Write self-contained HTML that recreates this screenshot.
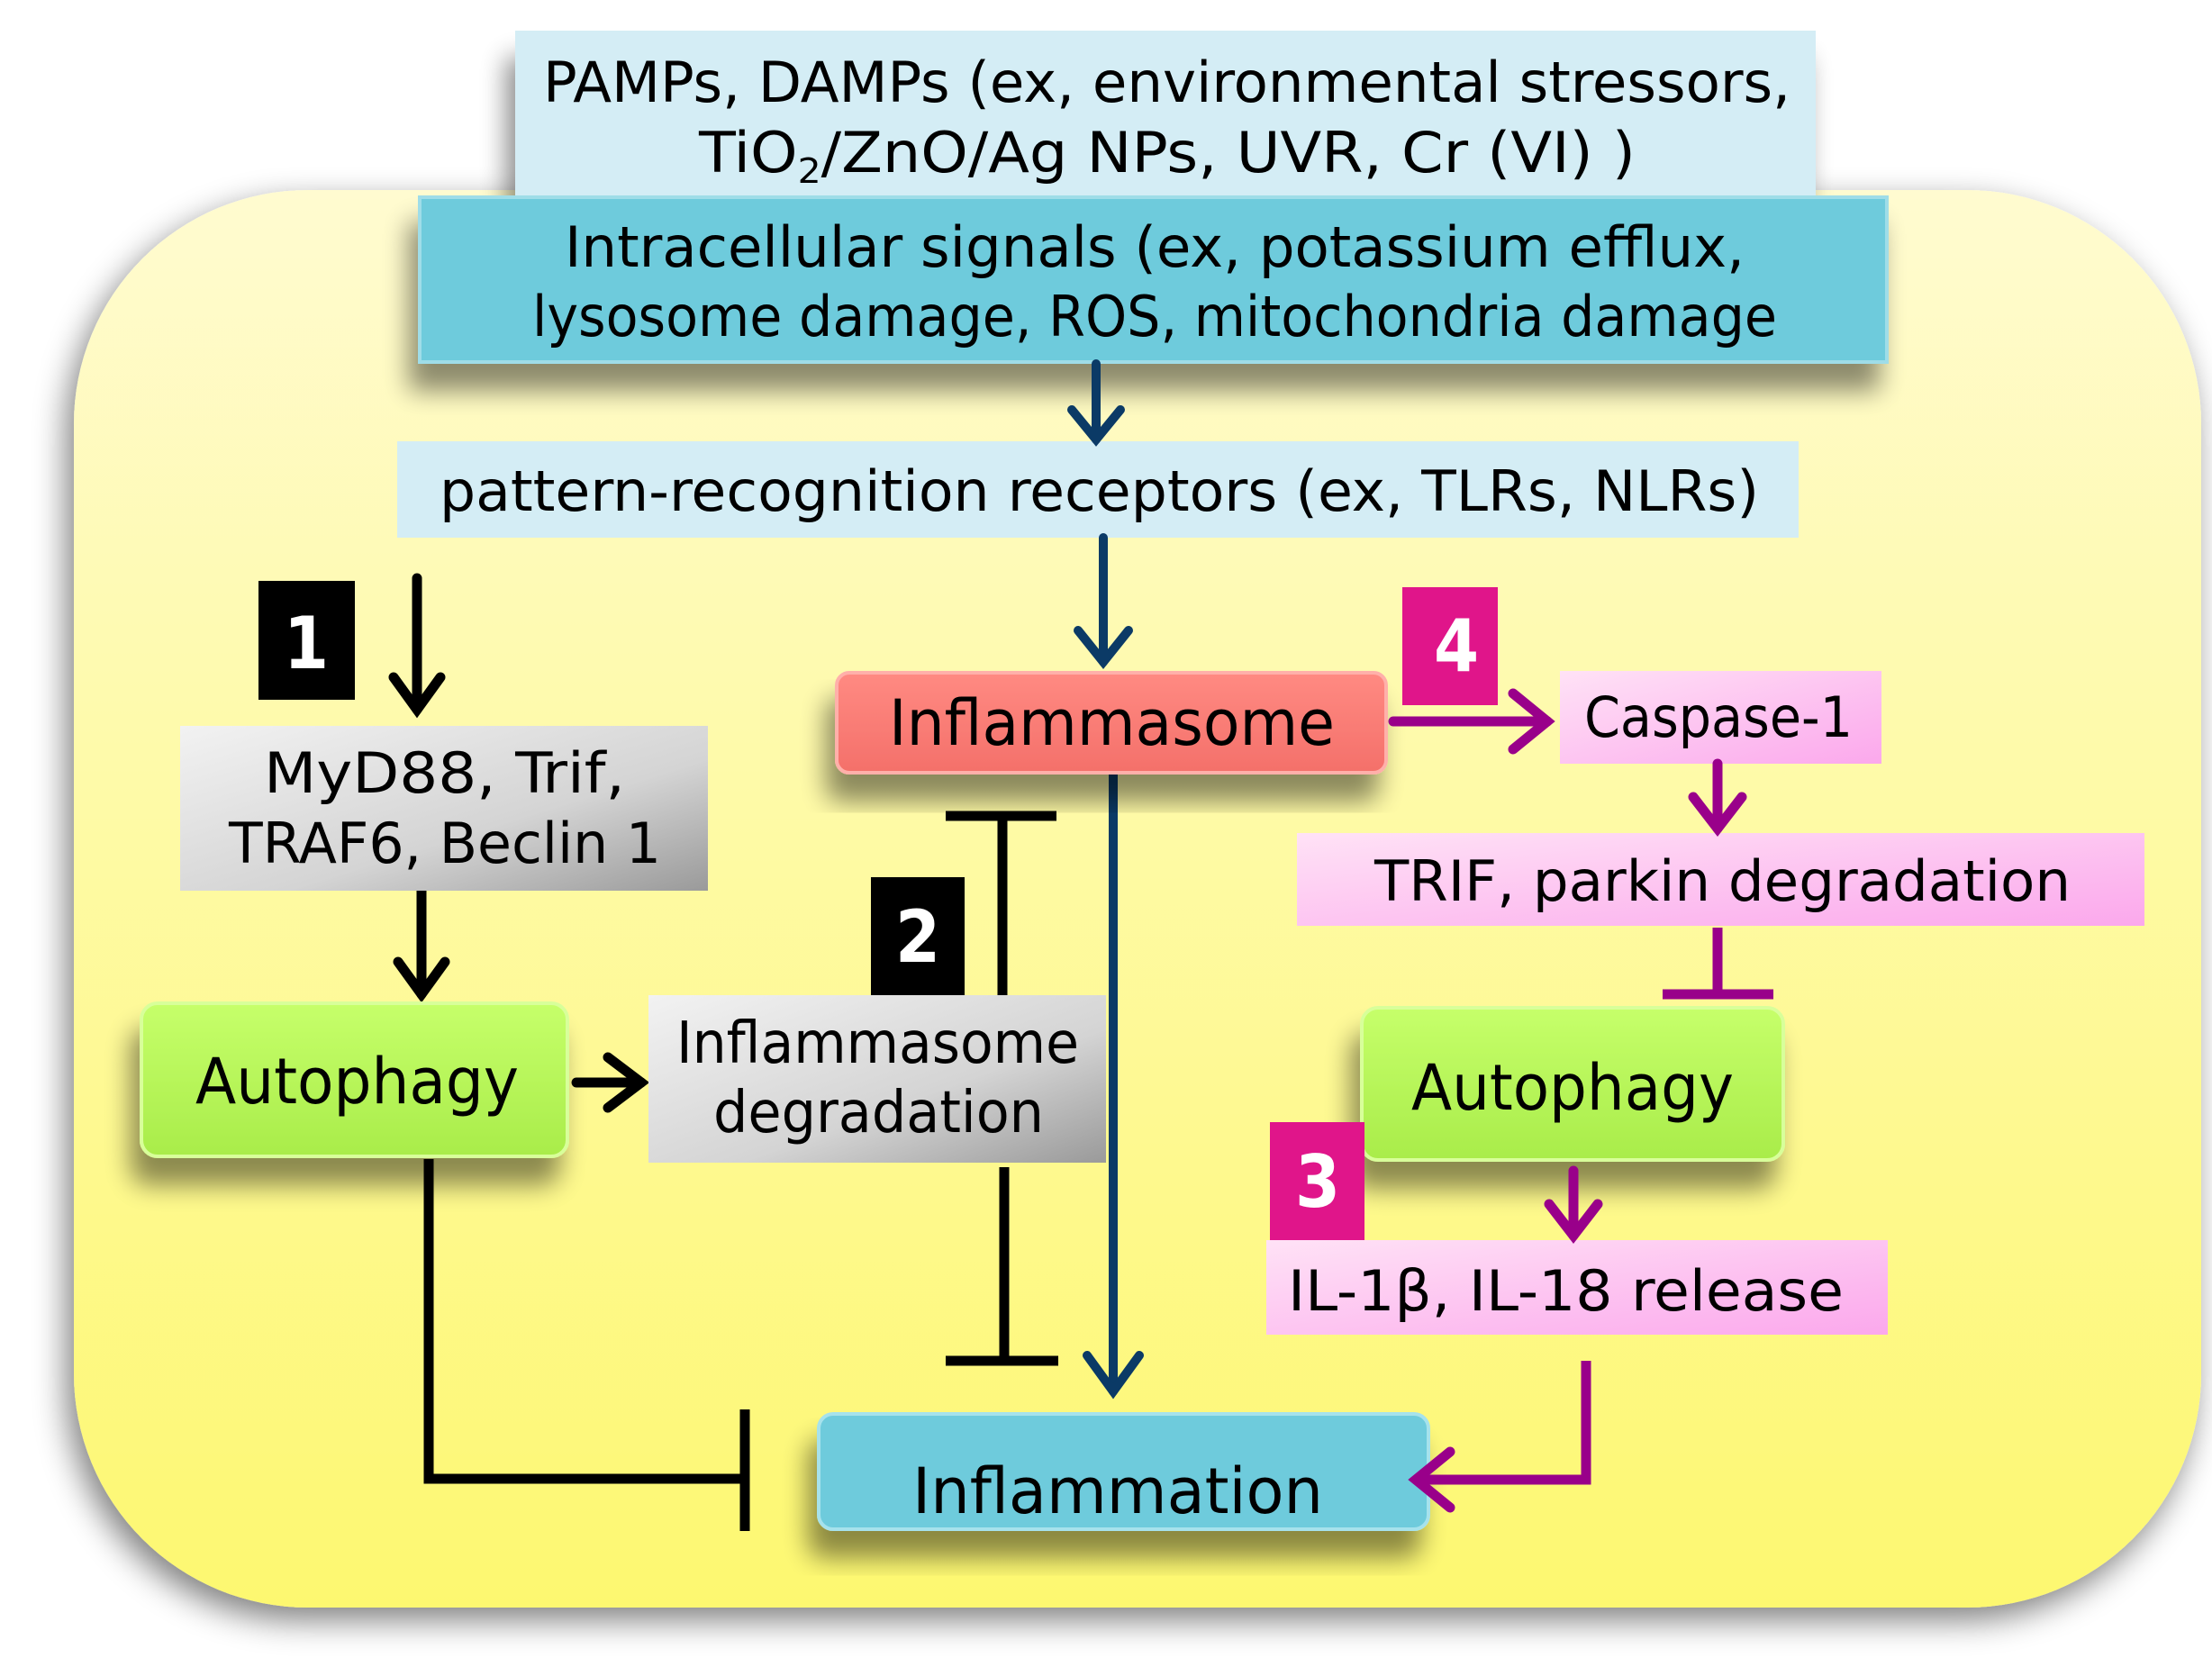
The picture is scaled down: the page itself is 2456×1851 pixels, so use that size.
<!DOCTYPE html>
<html><head><meta charset="utf-8"><style>
html,body{margin:0;padding:0;background:#fff;}
svg{display:block;}
text{font-family:"DejaVu Sans Condensed","Liberation Sans Narrow","Liberation Sans",sans-serif;fill:#000;}
</style></head><body>
<svg width="2456" height="1851" viewBox="0 0 2456 1851" xmlns="http://www.w3.org/2000/svg">
<defs>
<linearGradient id="yel" x1="0" y1="0" x2="0" y2="1"><stop offset="0" stop-color="#fffbd0"/><stop offset="1" stop-color="#fdf870"/></linearGradient>
<linearGradient id="gray" x1="0" y1="0" x2="1" y2="1"><stop offset="0" stop-color="#f2f2f2"/><stop offset="0.6" stop-color="#d4d4d4"/><stop offset="1" stop-color="#9a9a9a"/></linearGradient>
<linearGradient id="pink" x1="0" y1="0" x2="1" y2="1"><stop offset="0" stop-color="#ffe2f6"/><stop offset="1" stop-color="#fba8ec"/></linearGradient>
<linearGradient id="green" x1="0" y1="0" x2="0" y2="1"><stop offset="0" stop-color="#c6ff6a"/><stop offset="1" stop-color="#a9ec4a"/></linearGradient>
<linearGradient id="red" x1="0" y1="0" x2="0" y2="1"><stop offset="0" stop-color="#ff8a82"/><stop offset="1" stop-color="#f4706a"/></linearGradient>
<filter id="sh" x="-20%" y="-20%" width="150%" height="160%"><feGaussianBlur in="SourceAlpha" stdDeviation="14"/><feOffset dx="-10" dy="30"/><feComponentTransfer><feFuncA type="linear" slope="0.45"/></feComponentTransfer><feMerge><feMergeNode/><feMergeNode in="SourceGraphic"/></feMerge></filter>
<filter id="shbg" x="-10%" y="-10%" width="120%" height="120%"><feGaussianBlur in="SourceAlpha" stdDeviation="18"/><feOffset dx="-8" dy="14"/><feComponentTransfer><feFuncA type="linear" slope="0.5"/></feComponentTransfer><feMerge><feMergeNode/><feMergeNode in="SourceGraphic"/></feMerge></filter>
</defs>

<rect x="82" y="211" width="2362" height="1574" rx="260" fill="url(#yel)" filter="url(#shbg)"/>

<!-- top boxes -->
<rect x="572" y="34" width="1444" height="186" fill="#d4edf5" filter="url(#sh)"/>
<rect x="466" y="219" width="1629" height="183" fill="#6ecbdc" stroke="#9fdde8" stroke-width="4" filter="url(#sh)"/>
<rect x="441" y="490" width="1556" height="107" fill="#d4edf5"/>

<text x="603" y="113" font-size="62" textLength="1385" lengthAdjust="spacingAndGlyphs">PAMPs, DAMPs (ex, environmental stressors,</text>
<text x="776" y="191" font-size="62" textLength="1040" lengthAdjust="spacingAndGlyphs">TiO<tspan font-size="38" dy="12">2</tspan><tspan dy="-12">/ZnO/Ag NPs, UVR, Cr (VI) )</tspan></text>
<text x="627" y="296" font-size="62" textLength="1310" lengthAdjust="spacingAndGlyphs">Intracellular signals (ex, potassium efflux,</text>
<text x="591" y="373" font-size="62" textLength="1382" lengthAdjust="spacingAndGlyphs">lysosome damage, ROS, mitochondria damage</text>
<text x="488" y="567" font-size="62" textLength="1465" lengthAdjust="spacingAndGlyphs">pattern-recognition receptors (ex, TLRs, NLRs)</text>

<!-- navy arrows -->
<g stroke="#0b3a66" stroke-width="10" fill="none" stroke-linecap="round">
<line x1="1217" y1="404" x2="1217" y2="488"/><polyline points="1190,455 1217,488 1244,455"/>
<line x1="1225" y1="597" x2="1225" y2="735"/><polyline points="1197,700 1225,735 1253,700"/>
<line x1="1236" y1="858" x2="1236" y2="1545"/><polyline points="1207,1505 1236,1545 1265,1505"/>
</g>

<!-- left -->
<rect x="287" y="645" width="107" height="132" fill="#000"/>
<text x="340" y="742" font-size="80" font-weight="bold" text-anchor="middle" style="fill:#fff">1</text>
<g stroke="#000" stroke-width="11" fill="none" stroke-linecap="round">
<line x1="463" y1="642" x2="463" y2="788"/><polyline points="437,752 463,788 489,752"/>
<line x1="468" y1="989" x2="468" y2="1104"/><polyline points="442,1068 468,1104 494,1068"/>
<line x1="640" y1="1202" x2="712" y2="1202"/><polyline points="675,1174 712,1202 675,1230"/>
</g>
<rect x="200" y="806" width="586" height="183" fill="url(#gray)"/>
<text x="293" y="880" font-size="62" textLength="401" lengthAdjust="spacingAndGlyphs">MyD88, Trif,</text>
<text x="254" y="958" font-size="62" textLength="480" lengthAdjust="spacingAndGlyphs">TRAF6, Beclin 1</text>

<rect x="157" y="1114" width="473" height="170" rx="18" fill="url(#green)" stroke="#d8ff9a" stroke-width="4" filter="url(#sh)"/>
<text x="217" y="1225" font-size="70" textLength="359" lengthAdjust="spacingAndGlyphs">Autophagy</text>

<rect x="720" y="1105" width="508" height="186" fill="url(#gray)"/>
<text x="751" y="1180" font-size="64" textLength="447" lengthAdjust="spacingAndGlyphs">Inflammasome</text>
<text x="792" y="1257" font-size="64" textLength="367" lengthAdjust="spacingAndGlyphs">degradation</text>

<rect x="967" y="974" width="104" height="131" fill="#000"/>
<text x="1019" y="1068" font-size="80" font-weight="bold" text-anchor="middle" style="fill:#fff">2</text>

<g stroke="#000" stroke-width="11" fill="none">
<line x1="1113" y1="903" x2="1113" y2="1105"/><line x1="1050" y1="906" x2="1173" y2="906"/>
<line x1="1115" y1="1296" x2="1115" y2="1511"/><line x1="1050" y1="1511" x2="1175" y2="1511"/>
<polyline points="476,1287 476,1642 827,1642"/><line x1="827" y1="1565" x2="827" y2="1700"/>
</g>

<!-- center -->
<rect x="929" y="747" width="610" height="111" rx="14" fill="url(#red)" stroke="#ffb0aa" stroke-width="4" filter="url(#sh)"/>
<text x="987" y="827" font-size="70" textLength="495" lengthAdjust="spacingAndGlyphs">Inflammasome</text>

<rect x="909" y="1570" width="677" height="128" rx="16" fill="#6ecbdc" stroke="#a6e2ec" stroke-width="4" filter="url(#sh)"/>
<text x="1013" y="1680" font-size="70" textLength="456" lengthAdjust="spacingAndGlyphs">Inflammation</text>

<!-- right -->
<rect x="1557" y="652" width="106" height="131" fill="#e0158a"/>
<text x="1617" y="745" font-size="80" font-weight="bold" text-anchor="middle" style="fill:#fff">4</text>
<rect x="1732" y="745" width="357" height="103" fill="url(#pink)"/>
<text x="1759" y="818" font-size="62" textLength="298" lengthAdjust="spacingAndGlyphs">Caspase-1</text>
<rect x="1440" y="925" width="941" height="103" fill="url(#pink)"/>
<text x="1526" y="1000" font-size="62" textLength="773" lengthAdjust="spacingAndGlyphs">TRIF, parkin degradation</text>

<rect x="1512" y="1119" width="468" height="169" rx="18" fill="url(#green)" stroke="#d8ff9a" stroke-width="4" filter="url(#sh)"/>
<text x="1567" y="1232" font-size="70" textLength="358" lengthAdjust="spacingAndGlyphs">Autophagy</text>

<rect x="1410" y="1246" width="105" height="131" fill="#e0158a"/>
<text x="1463" y="1340" font-size="80" font-weight="bold" text-anchor="middle" style="fill:#fff">3</text>
<rect x="1406" y="1377" width="690" height="105" fill="url(#pink)"/>
<text x="1430" y="1455" font-size="62" textLength="617" lengthAdjust="spacingAndGlyphs">IL-1β, IL-18 release</text>

<g stroke="#99008a" stroke-width="11" fill="none" stroke-linecap="round">
<line x1="1547" y1="801" x2="1718" y2="801"/><polyline points="1680,770 1718,801 1680,832"/>
<line x1="1907" y1="848" x2="1907" y2="920"/><polyline points="1880,885 1907,920 1934,885"/>
<line x1="1747" y1="1300" x2="1747" y2="1372"/><polyline points="1720,1337 1747,1372 1774,1337"/>
<polyline points="1761,1511 1761,1643 1572,1643" stroke-linecap="butt"/><polyline points="1610,1612 1572,1643 1610,1674"/>
</g>
<g stroke="#99008a" stroke-width="11" fill="none">
<line x1="1907" y1="1030" x2="1907" y2="1104"/><line x1="1846" y1="1104" x2="1969" y2="1104"/>
</g>
</svg>
</body></html>
